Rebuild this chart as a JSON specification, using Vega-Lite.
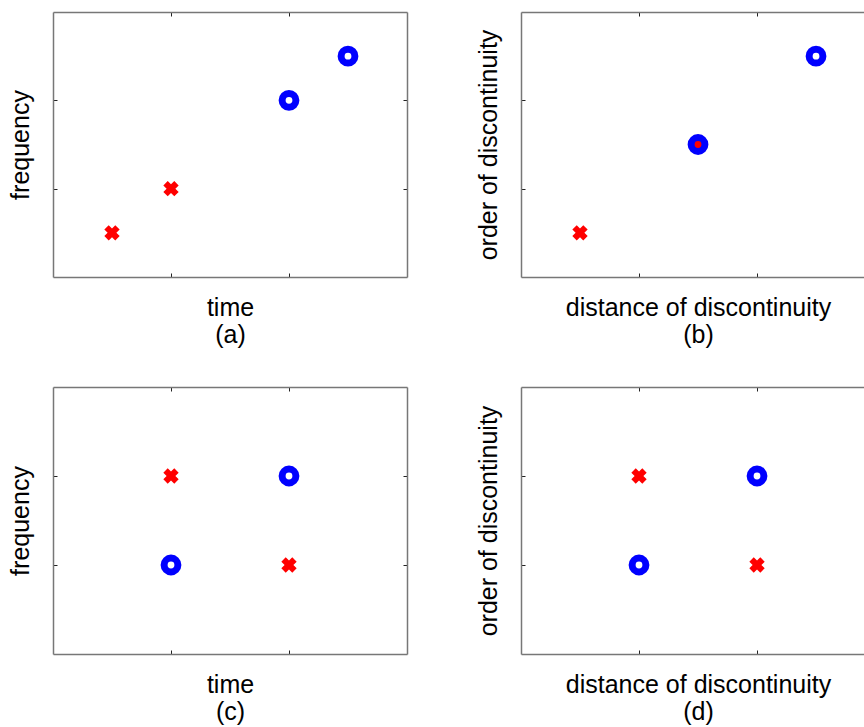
{
  "$schema": "https://vega.github.io/schema/vega-lite/v6.json",
  "background": "white",
  "padding": {"left": 8, "top": 11, "right": 0, "bottom": 0},
  "config": {
    "view": {"stroke": null},
    "axis": {
      "labels": false,
      "grid": false,
      "tickSize": -4,
      "tickColor": "#222222",
      "tickWidth": 1,
      "domainColor": "#777777",
      "domainWidth": 1.5,
      "titleFont": "Liberation Sans",
      "titleFontSize": 25,
      "titleFontWeight": "normal",
      "titleColor": "#000000",
      "titleLineHeight": 27
    },
    "axisBottom": {"titlePadding": 18},
    "axisLeft": {"titlePadding": 19}
  },
  "data": {"values": [
    {"panel": "a", "x": 0.5, "y": 0.5, "marker": "x"},
    {"panel": "a", "x": 1, "y": 1, "marker": "x"},
    {"panel": "a", "x": 2, "y": 2, "marker": "o"},
    {"panel": "a", "x": 2.5, "y": 2.5, "marker": "o"},
    {"panel": "b", "x": 0.5, "y": 0.5, "marker": "x"},
    {"panel": "b", "x": 1.5, "y": 1.5, "marker": "x"},
    {"panel": "b", "x": 1.5, "y": 1.5, "marker": "o"},
    {"panel": "b", "x": 2.5, "y": 2.5, "marker": "o"},
    {"panel": "c", "x": 1, "y": 2, "marker": "x"},
    {"panel": "c", "x": 2, "y": 1, "marker": "x"},
    {"panel": "c", "x": 1, "y": 1, "marker": "o"},
    {"panel": "c", "x": 2, "y": 2, "marker": "o"},
    {"panel": "d", "x": 1, "y": 2, "marker": "x"},
    {"panel": "d", "x": 2, "y": 1, "marker": "x"},
    {"panel": "d", "x": 1, "y": 1, "marker": "o"},
    {"panel": "d", "x": 2, "y": 2, "marker": "o"}
  ]},
  "columns": 2,
  "spacing": {"row": 38, "column": 68},
  "concat": [
    {
      "width": 354, "height": 265,
      "transform": [{"filter": "datum.panel === 'a'"}],
      "layer": [
        {
          "transform": [{"filter": "datum.marker === 'x'"}],
          "mark": {"type": "point", "shape": "cross", "angle": 45, "filled": true, "color": "#ff0000", "opacity": 1, "size": 240},
          "encoding": {
            "x": {"field": "x", "type": "quantitative", "scale": {"domain": [0, 3], "nice": false, "zero": false}, "axis": {"orient": "bottom", "values": [1, 2], "title": ["time", "(a)"]}},
            "y": {"field": "y", "type": "quantitative", "scale": {"domain": [0, 3], "nice": false, "zero": false}, "axis": {"orient": "left", "values": [1, 2], "title": "frequency"}}
          }
        },
        {
          "transform": [{"filter": "datum.marker === 'o'"}],
          "mark": {"type": "point", "shape": "circle", "filled": false, "color": "#0000ff", "opacity": 1, "strokeWidth": 7, "size": 190},
          "encoding": {
            "x": {"field": "x", "type": "quantitative", "axis": {"orient": "top", "values": [1, 2], "title": null}},
            "y": {"field": "y", "type": "quantitative", "axis": {"orient": "right", "values": [1, 2], "title": null}}
          }
        }
      ],
      "resolve": {"axis": {"x": "independent", "y": "independent"}}
    },
    {
      "width": 344, "height": 265,
      "transform": [{"filter": "datum.panel === 'b'"}],
      "layer": [
        {
          "transform": [{"filter": "datum.marker === 'x'"}],
          "mark": {"type": "point", "shape": "cross", "angle": 45, "filled": true, "color": "#ff0000", "opacity": 1, "size": 240},
          "encoding": {
            "x": {"field": "x", "type": "quantitative", "scale": {"domain": [0, 2.915], "nice": false, "zero": false}, "axis": {"orient": "bottom", "values": [1, 2], "title": ["distance of discontinuity", "(b)"], "titleX": 177}},
            "y": {"field": "y", "type": "quantitative", "scale": {"domain": [0, 3], "nice": false, "zero": false}, "axis": {"orient": "left", "values": [1, 2], "title": "order of discontinuity"}}
          }
        },
        {
          "transform": [{"filter": "datum.marker === 'o'"}],
          "mark": {"type": "point", "shape": "circle", "filled": false, "color": "#0000ff", "opacity": 1, "strokeWidth": 7, "size": 190},
          "encoding": {
            "x": {"field": "x", "type": "quantitative", "axis": {"orient": "top", "values": [1, 2], "title": null}},
            "y": {"field": "y", "type": "quantitative", "axis": null}
          }
        }
      ],
      "resolve": {"axis": {"x": "independent", "y": "independent"}}
    },
    {
      "width": 354, "height": 267,
      "transform": [{"filter": "datum.panel === 'c'"}],
      "layer": [
        {
          "transform": [{"filter": "datum.marker === 'x'"}],
          "mark": {"type": "point", "shape": "cross", "angle": 45, "filled": true, "color": "#ff0000", "opacity": 1, "size": 240},
          "encoding": {
            "x": {"field": "x", "type": "quantitative", "scale": {"domain": [0, 3], "nice": false, "zero": false}, "axis": {"orient": "bottom", "values": [1, 2], "title": ["time", "(c)"]}},
            "y": {"field": "y", "type": "quantitative", "scale": {"domain": [0, 3], "nice": false, "zero": false}, "axis": {"orient": "left", "values": [1, 2], "title": "frequency"}}
          }
        },
        {
          "transform": [{"filter": "datum.marker === 'o'"}],
          "mark": {"type": "point", "shape": "circle", "filled": false, "color": "#0000ff", "opacity": 1, "strokeWidth": 7, "size": 190},
          "encoding": {
            "x": {"field": "x", "type": "quantitative", "axis": {"orient": "top", "values": [1, 2], "title": null}},
            "y": {"field": "y", "type": "quantitative", "axis": {"orient": "right", "values": [1, 2], "title": null}}
          }
        }
      ],
      "resolve": {"axis": {"x": "independent", "y": "independent"}}
    },
    {
      "width": 344, "height": 267,
      "transform": [{"filter": "datum.panel === 'd'"}],
      "layer": [
        {
          "transform": [{"filter": "datum.marker === 'x'"}],
          "mark": {"type": "point", "shape": "cross", "angle": 45, "filled": true, "color": "#ff0000", "opacity": 1, "size": 240},
          "encoding": {
            "x": {"field": "x", "type": "quantitative", "scale": {"domain": [0, 2.915], "nice": false, "zero": false}, "axis": {"orient": "bottom", "values": [1, 2], "title": ["distance of discontinuity", "(d)"], "titleX": 177}},
            "y": {"field": "y", "type": "quantitative", "scale": {"domain": [0, 3], "nice": false, "zero": false}, "axis": {"orient": "left", "values": [1, 2], "title": "order of discontinuity"}}
          }
        },
        {
          "transform": [{"filter": "datum.marker === 'o'"}],
          "mark": {"type": "point", "shape": "circle", "filled": false, "color": "#0000ff", "opacity": 1, "strokeWidth": 7, "size": 190},
          "encoding": {
            "x": {"field": "x", "type": "quantitative", "axis": {"orient": "top", "values": [1, 2], "title": null}},
            "y": {"field": "y", "type": "quantitative", "axis": null}
          }
        }
      ],
      "resolve": {"axis": {"x": "independent", "y": "independent"}}
    }
  ]
}
